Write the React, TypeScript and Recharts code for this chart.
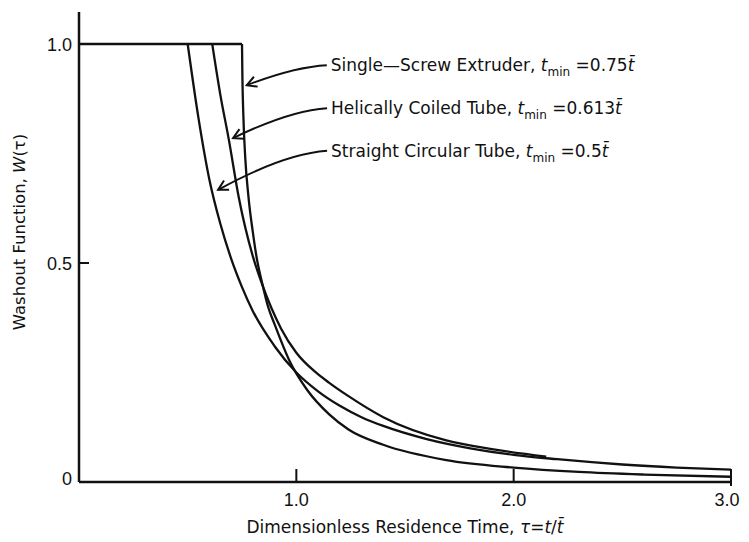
import { LineChart, Line, XAxis, YAxis, ReferenceDot, Label } from 'recharts';

// dimensionless time tau = t / t-bar, washout W(tau)
const tauTicks = [1, 2, 3];
const washoutTicks = [0, 0.5, 1];

// common plateau W = 1 before the first exit
const plateauTau = [0, 0.75];
const plateauW = [1, 1];

// straight circular tube, tmin = 0.5
const straightTau = [0.5, 0.55, 0.6, 0.65, 0.7, 0.75, 0.8, 0.9, 1.0, 1.1, 1.2, 1.3, 1.4, 1.6, 1.8, 2.0, 2.2, 2.5, 2.75, 3.0];
const straightW = [1.0, 0.83, 0.69, 0.59, 0.51, 0.445, 0.39, 0.31, 0.25, 0.207, 0.174, 0.148, 0.128, 0.098, 0.077, 0.062, 0.052, 0.04, 0.033, 0.028];

// helically coiled tube, tmin = 0.613
const helicalTau = [0.613, 0.65, 0.69, 0.735, 0.8, 0.84, 0.93, 1.0, 1.09, 1.15, 1.24, 1.4, 1.69, 1.9, 2.15];
const helicalW = [1.0, 0.885, 0.78, 0.65, 0.515, 0.455, 0.35, 0.295, 0.25, 0.227, 0.196, 0.148, 0.095, 0.075, 0.058];

// single-screw extruder, tmin = 0.75
const extruderTau = [0.75, 0.752, 0.756, 0.765, 0.78, 0.8, 0.82, 0.84, 0.87, 0.9, 0.97, 1.05, 1.15, 1.24, 1.4, 1.69, 2.0, 2.3, 2.6, 3.0];
const extruderW = [1.0, 0.92, 0.84, 0.74, 0.65, 0.57, 0.505, 0.46, 0.4, 0.36, 0.275, 0.21, 0.155, 0.12, 0.085, 0.05, 0.033, 0.023, 0.017, 0.012];

// callouts: where each arrow touches its curve
const noteTau = [0.772, 0.709, 0.64];
const noteW = [0.906, 0.785, 0.667];
const noteName = ['Single\u2014Screw Extruder, ', 'Helically Coiled Tube, ', 'Straight Circular Tube, '];
const noteTmin = ['0.75', '0.613', '0.5'];
const noteOffset = [
  [84, -20],
  [98, -30],
  [113, -39],
];

const pts = (ts: number[], ws: number[]) => ts.map((t, i) => ({ t, w: ws[i] }));

const INK = '#111';
const TICK_FONT = '"Liberation Sans", Arial, sans-serif';
const FONT = '"DejaVu Sans", Verdana, sans-serif';

function TauTick({ x, y, payload }: any) {
  const v = payload.value;
  return (
    <g>
      <line x1={x} y1={y + (v === 3 ? 4 : 0)} x2={x} y2={y - 13} stroke={INK} strokeWidth={2} />
      <text x={x - (v === 3 ? 4 : 0)} y={y + 24} textAnchor="middle" fontSize={18} fill={INK} fontFamily={TICK_FONT}>
        {v.toFixed(1)}
      </text>
    </g>
  );
}

function WashoutTick({ x, y, payload }: any) {
  const v = payload.value;
  return (
    <g>
      {v === 0.5 && <line x1={x} y1={y} x2={x + 10} y2={y} stroke={INK} strokeWidth={2} />}
      <text x={x - 7} y={y + (v === 0 ? -3 : 1)} dy="0.36em" textAnchor="end" fontSize={18} fill={INK} fontFamily={TICK_FONT}>
        {v === 0 ? '0' : v.toFixed(1)}
      </text>
    </g>
  );
}

function Callout({ cx, cy, i }: any) {
  const [dx, dy] = noteOffset[i];
  const ex = dx - 4;
  const qx = ex * 0.6;
  const qy = dy * 0.92;
  const a = Math.atan2(qy, qx);
  const len = 11;
  const h1 = [cx + len * Math.cos(a + 0.5), cy + len * Math.sin(a + 0.5)];
  const h2 = [cx + len * Math.cos(a - 0.5), cy + len * Math.sin(a - 0.5)];
  return (
    <g>
      <path
        d={`M${cx},${cy} Q${cx + qx},${cy + qy} ${cx + ex},${cy + dy}`}
        fill="none"
        stroke={INK}
        strokeWidth={2}
      />
      <path d={`M${h1[0]},${h1[1]} L${cx},${cy} L${h2[0]},${h2[1]}`} fill="none" stroke={INK} strokeWidth={2} />
      <text x={cx + dx} y={cy + dy} dy="0.36em" fontSize={17} fill={INK} fontFamily={FONT}>
        {noteName[i]}
        <tspan fontStyle="italic">t</tspan>
        <tspan fontSize={12} dy={5}>min</tspan>
        <tspan dy={-5}> ={noteTmin[i]}</tspan>
        <tspan fontStyle="italic">t{'\u0304'}</tspan>
      </text>
    </g>
  );
}

function XTitle({ viewBox }: any) {
  const { x, y, width } = viewBox;
  return (
    <text x={x + width / 2} y={y + 51} textAnchor="middle" fontSize={17} fill={INK} fontFamily={FONT}>
      Dimensionless Residence Time, <tspan fontStyle="italic">τ</tspan>=<tspan fontStyle="italic">t</tspan>/
      <tspan fontStyle="italic">t{'\u0304'}</tspan>
    </text>
  );
}

function YTitle() {
  return (
    <text
      x={17}
      y={224}
      transform="rotate(-90 17 224)"
      textAnchor="middle"
      fontSize={16.5}
      fill={INK}
      fontFamily={FONT}
    >
      Washout Function, <tspan fontStyle="italic">W</tspan>(τ)
    </text>
  );
}

export default function App() {
  return (
    <div style={{ width: 741, height: 534, background: '#fff' }}>
      <LineChart width={741} height={534} margin={{ top: 4, right: 18, bottom: 0, left: 0 }}>
        <XAxis
          dataKey="t"
          type="number"
          domain={[0, 3]}
          ticks={tauTicks}
          height={60}
          tickSize={0}
          tickMargin={0}
          tickLine={false}
          axisLine={{ stroke: INK, strokeWidth: 2.5 }}
          tick={<TauTick />}
          allowDataOverflow
        >
          <Label content={<XTitle />} />
        </XAxis>
        <YAxis
          dataKey="w"
          type="number"
          domain={[0, 1.073]}
          ticks={washoutTicks}
          width={71}
          tickSize={0}
          tickMargin={0}
          tickLine={false}
          axisLine={{ stroke: INK, strokeWidth: 2.5 }}
          tick={<WashoutTick />}
          allowDataOverflow
        >
          <Label content={<YTitle />} />
        </YAxis>
        <Line data={pts(plateauTau, plateauW)} dataKey="w" type="linear" stroke={INK} strokeWidth={2.3} dot={false} isAnimationActive={false} />
        <Line data={pts(straightTau, straightW)} dataKey="w" type="monotone" stroke={INK} strokeWidth={2.3} dot={false} isAnimationActive={false} />
        <Line data={pts(helicalTau, helicalW)} dataKey="w" type="monotone" stroke={INK} strokeWidth={2.3} dot={false} isAnimationActive={false} />
        <Line data={pts(extruderTau, extruderW)} dataKey="w" type="monotone" stroke={INK} strokeWidth={2.3} dot={false} isAnimationActive={false} />
        {noteTau.map((t, i) => (
          <ReferenceDot key={i} x={t} y={noteW[i]} r={0} shape={(p: any) => <Callout {...p} i={i} />} />
        ))}
      </LineChart>
    </div>
  );
}
